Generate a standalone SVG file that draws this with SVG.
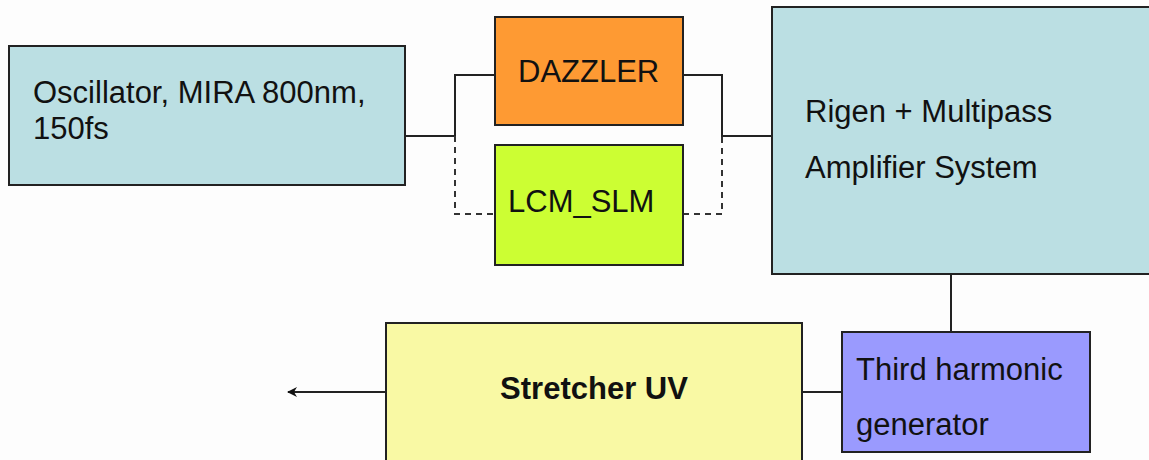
<svg xmlns="http://www.w3.org/2000/svg" width="1149" height="460" viewBox="0 0 1149 460">
<style>
.box{stroke:#222;stroke-width:2}
.t{font-family:"Liberation Sans",Arial,sans-serif;font-size:31px;fill:#111}
.b{font-weight:bold;text-anchor:middle}
.c{fill:none;stroke:#222;stroke-width:2}
.d{fill:none;stroke:#333;stroke-width:2;stroke-dasharray:6,5}
</style>
<defs>
<marker id="ah" markerWidth="10" markerHeight="10" refX="9" refY="5" orient="auto" markerUnits="userSpaceOnUse">
<path d="M0,0 L10,5 L0,10 L3,5 Z" fill="#111"/>
</marker>
</defs>
<rect width="1149" height="460" fill="#fdfdfd"/>
<g id="connectors">
<path class="c" d="M405,136 H455 V75 H495"/>
<path class="c" d="M683,75 H722 V136 H772"/>
<path class="d" d="M455,136 V214 H495"/>
<path class="d" d="M683,214 H722 V136"/>
<path class="c" d="M951,274 V332"/>
<path class="c" d="M842,392 H802"/>
<path class="c" d="M386,392 H288" marker-end="url(#ah)"/>
</g>
<g id="oscillator">
<rect class="box" x="9" y="46" width="396" height="139" fill="#bbdfe3"/>
<text class="t" x="33" y="103">Oscillator, MIRA 800nm,</text>
<text class="t" x="33" y="139">150fs</text>
</g>
<g id="dazzler">
<rect class="box" x="495" y="17" width="188" height="108" fill="#fe9a33"/>
<text class="t" x="518" y="82">DAZZLER</text>
</g>
<g id="lcm_slm">
<rect class="box" x="495" y="145" width="188" height="120" fill="#ccfe33"/>
<text class="t" x="508" y="212">LCM_SLM</text>
</g>
<g id="amplifier">
<rect class="box" x="772" y="7" width="390" height="267" fill="#bbdfe3"/>
<text class="t" x="805" y="122">Rigen + Multipass</text>
<text class="t" x="805" y="178">Amplifier System</text>
</g>
<g id="thg">
<rect class="box" x="842" y="332" width="248" height="120" fill="#9a9afe"/>
<text class="t" x="856" y="380">Third harmonic</text>
<text class="t" x="856" y="435">generator</text>
</g>
<g id="stretcher">
<rect class="box" x="386" y="323" width="416" height="150" fill="#f9f9a4"/>
<text class="t b" x="594" y="399">Stretcher UV</text>
</g>
</svg>
